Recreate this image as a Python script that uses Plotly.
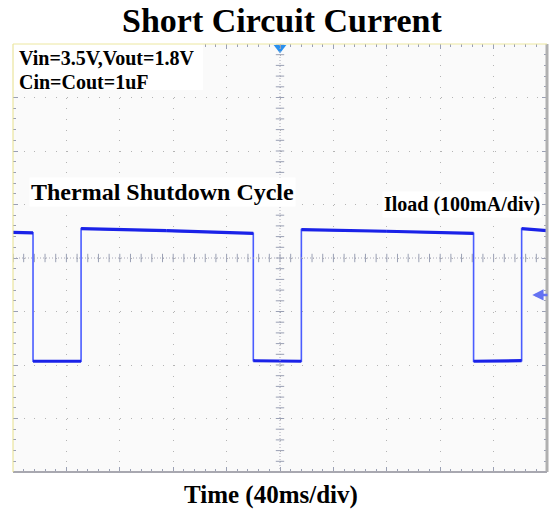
import numpy as np
import plotly.graph_objects as go

# Data: time in ms (40 ms/div), current in mA relative to screen centre (100 mA/div)
time_ms = [0, 15, 15, 51, 51, 115, 180, 180, 216, 216, 280, 345, 345, 381, 381, 400]
iload_ma = [48, 47, -193, -193, 55, 51, 46, -192, -193, 53, 50, 46, -193, -192, 55, 51]

title_text = "Short Circuit Current"
xlabel_text = "Time (40ms/div)"
cond_lines = ["Vin=3.5V,Vout=1.8V", "Cin=Cout=1uF"]
cycle_label = "Thermal Shutdown Cycle"
ch_label = "Iload (100mA/div)"

serif = "Liberation Serif, Times New Roman, serif"
grid_col = "#b4b4b4"
tick_col = "#9aa0b4"

fig = go.Figure()

# centre-cross minor ticks (decoration)
cx = np.arange(0, 401, 8)
cy = np.arange(-400, 401, 20)
fig.add_trace(go.Scatter(x=cx, y=np.zeros_like(cx), mode="markers",
                         marker=dict(symbol="line-ns", size=6, line=dict(width=1, color=tick_col)),
                         hoverinfo="skip", showlegend=False))
fig.add_trace(go.Scatter(x=np.full_like(cy, 200), y=cy, mode="markers",
                         marker=dict(symbol="line-ew", size=6, line=dict(width=1, color=tick_col)),
                         hoverinfo="skip", showlegend=False))

# waveform: thin edges plus thicker levels
fig.add_trace(go.Scatter(x=time_ms, y=iload_ma, mode="lines",
                         line=dict(color="#4a5cff", width=1.6),
                         hoverinfo="skip", showlegend=False))
lx, ly = [], []
for i in range(len(time_ms) - 1):
    if time_ms[i] != time_ms[i + 1]:
        lx += [time_ms[i], time_ms[i + 1], None]
        ly += [iload_ma[i], iload_ma[i + 1], None]
fig.add_trace(go.Scatter(x=lx, y=ly, mode="lines",
                         line=dict(color="#1a22e8", width=3.2),
                         hoverinfo="skip", showlegend=False, connectgaps=False))

# trigger marker
fig.add_trace(go.Scatter(x=[200], y=[393], mode="markers",
                         marker=dict(symbol="triangle-down", size=11, color="#2a90ee"),
                         cliponaxis=False, hoverinfo="skip", showlegend=False))

shapes = []
shapes.append(dict(type="line", xref="x", yref="y", x0=0, x1=400, y0=0, y1=0,
                   line=dict(color="#a8a8b8", width=1, dash="1px,2px")))
shapes.append(dict(type="line", xref="x", yref="y", x0=200, x1=200, y0=-400, y1=400,
                   line=dict(color="#a8a8b8", width=1, dash="1px,2px")))
shapes.append(dict(type="rect", xref="paper", yref="paper", x0=0.0, x1=0.356, y0=0.8925, y1=1.0,
                   fillcolor="white", line=dict(width=0), layer="above"))
shapes.append(dict(type="line", xref="paper", yref="paper", x0=1, x1=1, y0=0, y1=1,
                   line=dict(color="#b0b0b0", width=3)))
shapes.append(dict(type="line", xref="paper", yref="paper", x0=0, x1=1, y0=0, y1=0,
                   line=dict(color="#a8a8b0", width=2)))
shapes.append(dict(type="line", xref="paper", yref="paper", x0=0, x1=0, y0=0, y1=1,
                   line=dict(color="#e6df8a", width=1)))
shapes.append(dict(type="line", xref="paper", yref="paper", x0=0, x1=1, y0=1, y1=1,
                   line=dict(color="#ece7a0", width=1)))

annotations = [
    dict(text=f"<b>{cond_lines[0]}</b>", xref="paper", yref="paper", x=0.008, y=0.967,
         xanchor="left", yanchor="middle", showarrow=False,
         font=dict(family=serif, size=20, color="black")),
    dict(text=f"<b>{cond_lines[1]}</b>", xref="paper", yref="paper", x=0.008, y=0.912,
         xanchor="left", yanchor="middle", showarrow=False,
         font=dict(family=serif, size=20, color="black")),
    dict(text=f"<b>{cycle_label}</b>", xref="paper", yref="paper", x=0.030, y=0.655,
         xanchor="left", yanchor="middle", showarrow=False, bgcolor="white",
         font=dict(family=serif, size=24, color="black")),
    dict(text=f"<b>{ch_label}</b>", xref="paper", yref="paper", x=0.99, y=0.624,
         xanchor="right", yanchor="middle", showarrow=False, bgcolor="white",
         font=dict(family=serif, size=20, color="black")),
    dict(text=f"<b>{title_text}</b>", xref="paper", yref="paper", x=0.505, y=1.056,
         xanchor="center", yanchor="middle", showarrow=False,
         font=dict(family=serif, size=34, color="black")),
    dict(text=f"<b>{xlabel_text}</b>", xref="paper", yref="paper", x=0.483, y=-0.054,
         xanchor="center", yanchor="middle", showarrow=False,
         font=dict(family=serif, size=25, color="black")),
    dict(text="", x=389, y=-69, xref="x", yref="y", ax=17, ay=0, showarrow=True,
         arrowhead=2, arrowsize=0.9, arrowwidth=2.5, arrowcolor="#6472f2"),
]

fig.update_layout(
    width=549, height=514,
    margin=dict(l=13, r=2, t=44, b=42),
    paper_bgcolor="white", plot_bgcolor="#fafafa",
    shapes=shapes, annotations=annotations,
    showlegend=False,
)
fig.update_xaxes(range=[0, 400], dtick=40, showticklabels=False, showgrid=True,
                 gridcolor=grid_col, griddash="1px,9.7px", gridwidth=1, zeroline=False,
                 ticks="inside", ticklen=5, tickcolor=tick_col, mirror="ticks",
                 showline=False,
                 minor=dict(dtick=8, ticks="inside", ticklen=3, tickcolor=tick_col, showgrid=False))
fig.update_yaxes(range=[-400, 400], dtick=100, showticklabels=False, showgrid=True,
                 gridcolor=grid_col, griddash="1px,9.7px", gridwidth=1, zeroline=False,
                 ticks="inside", ticklen=5, tickcolor=tick_col, mirror="ticks",
                 showline=False,
                 minor=dict(dtick=20, ticks="inside", ticklen=3, tickcolor=tick_col, showgrid=False))

fig.write_html("out.html", config={"displayModeBar": False},
               post_script="document.body.style.margin='0';document.body.style.overflow='hidden';")
